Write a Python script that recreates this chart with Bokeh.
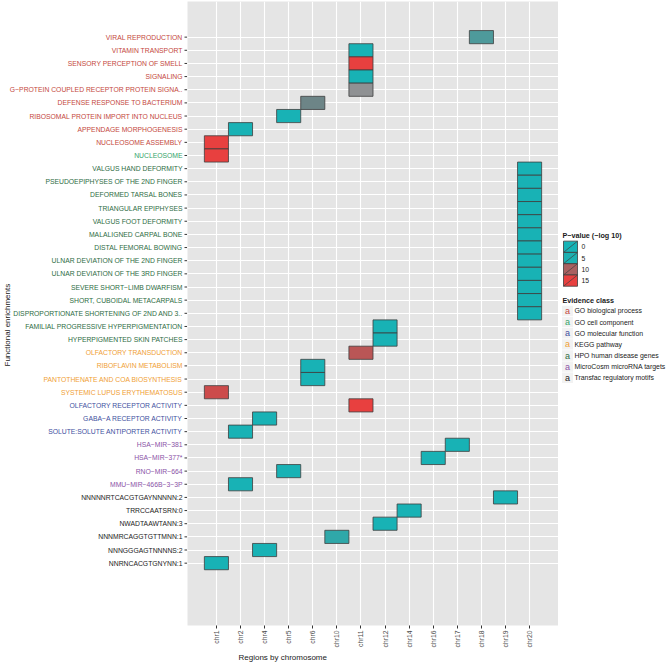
import numpy as np
from bokeh.plotting import figure
from bokeh.models import (ColumnDataSource, LinearColorMapper, FixedTicker, Range1d, Title)
from bokeh.layouts import row
from bokeh.embed import file_html
from bokeh.resources import INLINE
from bokeh.core.properties import value
from bokeh.transform import transform

# ---------------- data ----------------
chromosomes = ["chr1", "chr2", "chr4", "chr5", "chr6", "chr10", "chr11", "chr12",
               "chr14", "chr16", "chr17", "chr18", "chr19", "chr20"]

terms = [
    "VIRAL REPRODUCTION", "VITAMIN TRANSPORT", "SENSORY PERCEPTION OF SMELL", "SIGNALING",
    "G−PROTEIN COUPLED RECEPTOR PROTEIN SIGNA..", "DEFENSE RESPONSE TO BACTERIUM",
    "RIBOSOMAL PROTEIN IMPORT INTO NUCLEUS", "APPENDAGE MORPHOGENESIS", "NUCLEOSOME ASSEMBLY",
    "NUCLEOSOME",
    "VALGUS HAND DEFORMITY", "PSEUDOEPIPHYSES OF THE 2ND FINGER", "DEFORMED TARSAL BONES",
    "TRIANGULAR EPIPHYSES", "VALGUS FOOT DEFORMITY", "MALALIGNED CARPAL BONE",
    "DISTAL FEMORAL BOWING", "ULNAR DEVIATION OF THE 2ND FINGER",
    "ULNAR DEVIATION OF THE 3RD FINGER", "SEVERE SHORT−LIMB DWARFISM",
    "SHORT, CUBOIDAL METACARPALS", "DISPROPORTIONATE SHORTENING OF 2ND AND 3..",
    "FAMILIAL PROGRESSIVE HYPERPIGMENTATION", "HYPERPIGMENTED SKIN PATCHES",
    "OLFACTORY TRANSDUCTION", "RIBOFLAVIN METABOLISM", "PANTOTHENATE AND COA BIOSYNTHESIS",
    "SYSTEMIC LUPUS ERYTHEMATOSUS",
    "OLFACTORY RECEPTOR ACTIVITY", "GABA−A RECEPTOR ACTIVITY", "SOLUTE:SOLUTE ANTIPORTER ACTIVITY",
    "HSA−MIR−381", "HSA−MIR−377*", "RNO−MIR−664", "MMU−MIR−466B−3−3P",
    "NNNNNRTCACGTGAYNNNNN:2", "TRRCCAATSRN:0", "NWADTAAWTANN:3", "NNNMRCAGGTGTTMNN:1",
    "NNNGGGAGTNNNNS:2", "NNRNCACGTGNYNN:1",
]

term_class = (["GO biological process"] * 9 + ["GO cell component"] +
              ["HPO human disease genes"] * 14 + ["KEGG pathway"] * 4 +
              ["GO molecular function"] * 3 + ["MicroCosm microRNA targets"] * 4 +
              ["Transfac regulatory motifs"] * 6)

term_chr = ["chr18", "chr11", "chr11", "chr11", "chr11", "chr6", "chr5", "chr2", "chr1",
            "chr1"] + ["chr20"] * 12 + ["chr12", "chr12", "chr11", "chr6", "chr6", "chr1",
            "chr11", "chr4", "chr2", "chr17", "chr16", "chr5", "chr2",
            "chr19", "chr14", "chr12", "chr10", "chr4", "chr1"]

term_pval = [7, 1.5, 15, 1.5, 9, 8, 1.5, 1.5, 15, 15] + [1.5] * 12 + [
    1.5, 1.5, 11, 1.5, 1.5, 12, 15, 1.5, 1.5, 1.5, 1.5, 1.5, 1.5,
    1.5, 1.5, 1.5, 5.8, 1.5, 1.5]

evidence_classes = ["GO biological process", "GO cell component", "GO molecular function",
                    "KEGG pathway", "HPO human disease genes", "MicroCosm microRNA targets",
                    "Transfac regulatory motifs"]
pval_breaks = [0, 5, 10, 15]

# ---------------- styles ----------------
FONT_NAME = "Liberation Sans"
FONT = value(FONT_NAME)
class_colors = {
    "GO biological process": "#c4473d",
    "GO cell component": "#35a46a",
    "GO molecular function": "#3e4f9e",
    "KEGG pathway": "#f0a035",
    "HPO human disease genes": "#2d6c43",
    "MicroCosm microRNA targets": "#8a52a6",
    "Transfac regulatory motifs": "#222222",
}
anchor_v = [0, 5, 7, 8, 9, 10, 12, 15]
anchor_c = ["#16b3b6", "#1cb0b1", "#4e9a9b", "#6d8587", "#8f9193", "#a96060", "#cc4b4b", "#e8403f"]


def hex2rgb(h):
    return [int(h[i:i + 2], 16) for i in (1, 3, 5)]


rgb = np.array([hex2rgb(c) for c in anchor_c], dtype=float)
grid_v = np.linspace(0, 15, 256)
palette = []
for v in grid_v:
    r, g, b = (np.interp(v, anchor_v, rgb[:, k]) for k in range(3))
    palette.append("#%02x%02x%02x" % (int(round(r)), int(round(g)), int(round(b))))
mapper = LinearColorMapper(palette=palette, low=0, high=15)

# ---------------- geometry ----------------
H = 664
TOP, FH, BOT = 1, 624, 39
LABW, MAINW, LEGW = 187, 371, 111

n = len(terms)
ys = [n - i for i in range(n)]
xs = [chromosomes.index(c) + 1 for c in term_chr]
x0, x1 = -0.2, len(chromosomes) + 1.2
y_range = Range1d(1 - 4.74, n + 2.71)

# ---------------- main plot ----------------
src = ColumnDataSource(dict(x=xs, y=ys, p=term_pval))

p = figure(frame_width=MAINW, frame_height=FH, x_range=Range1d(x0, x1), y_range=y_range,
           min_border_left=0, min_border_right=0, min_border_top=TOP, min_border_bottom=BOT,
           y_axis_location=None,
           toolbar_location=None, output_backend="svg",
           background_fill_color="#e5e5e5", border_fill_color="white", outline_line_color=None)

p.xgrid.ticker = FixedTicker(ticks=list(range(1, len(chromosomes) + 1)))
p.ygrid.ticker = FixedTicker(ticks=ys)
p.grid.grid_line_color = "white"
p.grid.grid_line_width = 1.1

p.rect(x="x", y="y", width=1, height=1, source=src,
       fill_color=transform("p", mapper), line_color="#3d3d3d", line_width=0.8)

xa = p.xaxis[0]
xa.ticker = FixedTicker(ticks=list(range(1, len(chromosomes) + 1)))
xa.major_label_overrides = {i + 1: c for i, c in enumerate(chromosomes)}
xa.major_label_orientation = np.pi / 2
xa.major_label_text_font = FONT_NAME
xa.major_label_text_font_size = "6.8px"
xa.major_label_text_color = "#4d4d4d"
xa.major_label_standoff = 2
xa.axis_line_color = None
xa.minor_tick_line_color = None
xa.major_tick_line_color = "#333333"
xa.major_tick_out = 3
xa.major_tick_in = 0

p.add_layout(Title(text="Regions by chromosome", align="left", offset=51, standoff=0,
                   text_font=FONT_NAME, text_font_size="8px", text_font_style="normal",
                   text_color="#1a1a1a"), "below")

# ---------------- y labels panel ----------------
lab = figure(frame_width=LABW, frame_height=FH, x_range=Range1d(0, LABW), y_range=y_range,
             min_border_left=0, min_border_right=0, min_border_top=TOP, min_border_bottom=BOT,
             x_axis_location=None, y_axis_location=None,
             toolbar_location=None, output_backend="svg", outline_line_color=None)
lab.grid.visible = False
lsrc = ColumnDataSource(dict(y=ys, term=terms, tx=[LABW - 5] * n,
                             t0=[LABW - 3] * n, t1=[LABW] * n,
                             color=[class_colors[c] for c in term_class]))
lab.segment(x0="t0", y0="y", x1="t1", y1="y", source=lsrc, line_color="#333333", line_width=1)
lab.text(x="tx", y="y", text="term", source=lsrc, text_align="right", text_baseline="middle",
         text_color="color", text_font=FONT, text_font_size="6.8px")
ymid = (ys[21] + ys[22]) / 2 - 0.4
lab.text(x=[7], y=[ymid], text=["Functional enrichments"], angle=np.pi / 2,
         text_align="center", text_baseline="middle", text_font=FONT,
         text_font_size="8px", text_color="#1a1a1a")

# ---------------- legend panel ----------------
lg = figure(width=LEGW, height=H, x_range=Range1d(0, LEGW), y_range=Range1d(H, 0),
            x_axis_location=None, y_axis_location=None, min_border=0,
            toolbar_location=None, output_backend="svg", outline_line_color=None)
lg.grid.visible = False

lg.text(x=[4], y=[249], text=["P−value (−log 10)"], text_font=FONT, text_font_size="7.2px",
        text_font_style="bold", text_baseline="middle", text_color="#1a1a1a")
ky = [261 + 12 * i for i in range(len(pval_breaks))]
ksrc = ColumnDataSource(dict(x=[12] * len(pval_breaks), y=ky, v=pval_breaks,
                             lab=[str(b) for b in pval_breaks],
                             x0=[5] * len(pval_breaks), x1=[19] * len(pval_breaks),
                             ya=[y + 6 for y in ky], yb=[y - 6 for y in ky],
                             tx=[23] * len(pval_breaks)))
lg.rect(x="x", y="y", width=14, height=12, source=ksrc, fill_color=transform("v", mapper),
        line_color="#3d3d3d", line_width=0.8)
lg.segment(x0="x0", y0="ya", x1="x1", y1="yb", source=ksrc, line_color="#3d3d3d", line_width=0.7)
lg.text(x="tx", y="y", text="lab", source=ksrc, text_font=FONT, text_font_size="6.8px",
        text_baseline="middle", text_color="#1a1a1a")

lg.text(x=[4], y=[318], text=["Evidence class"], text_font=FONT, text_font_size="7.2px",
        text_font_style="bold", text_baseline="middle", text_color="#1a1a1a")
ey = [329.3 + 11.85 * i for i in range(len(evidence_classes))]
esrc = ColumnDataSource(dict(x=[9] * len(ey), y=ey, cls=evidence_classes,
                             a=["a"] * len(ey), tx=[16] * len(ey),
                             col=[class_colors[c] for c in evidence_classes]))
lg.rect(x="x", y="y", width=11, height=11, source=esrc, fill_color="#f2f2f2", line_color=None)
lg.text(x="x", y="y", text="a", source=esrc, text_color="col", text_font=FONT,
        text_font_size="9px", text_align="center", text_baseline="middle")
lg.text(x="tx", y="y", text="cls", source=esrc, text_font=FONT, text_font_size="6.9px",
        text_baseline="middle", text_color="#1a1a1a")

layout = row(lab, p, lg)
open("out.html", "w").write(file_html(layout, INLINE))
